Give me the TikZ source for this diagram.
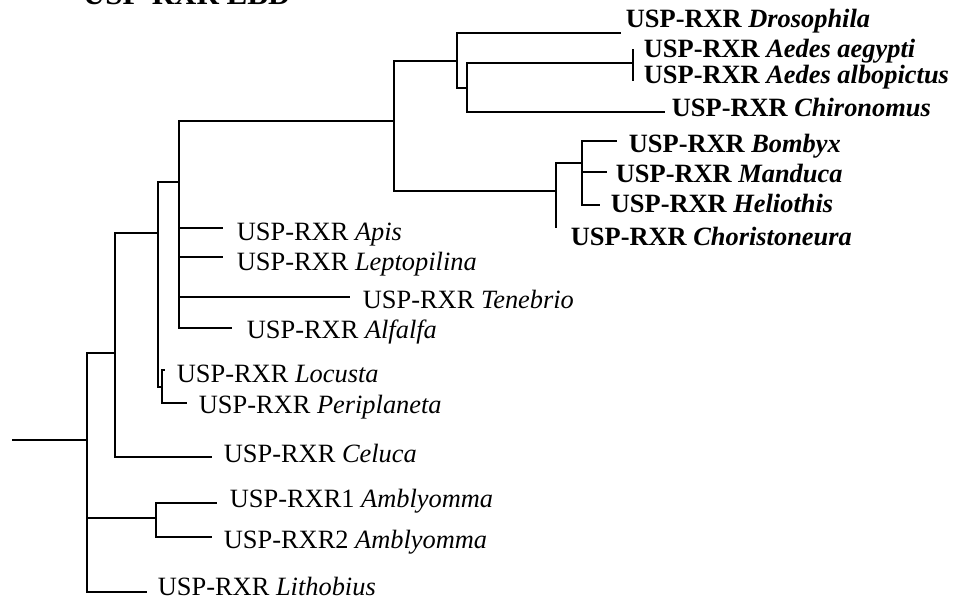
\documentclass[tikz,border=0pt]{standalone}
\usepackage{fontspec}
\setmainfont{Liberation Serif}
\begin{document}
\begin{tikzpicture}[x=1pt,y=-1pt,line width=1.8pt,
  every node/.style={inner sep=0pt,anchor=base west,font=\fontsize{26.4}{30}\selectfont},
  sp/.style={font=\fontsize{26.4}{30}\selectfont\bfseries}]
\clip (0,0) rectangle (970,602);
\node[font=\fontsize{31}{36}\selectfont\bfseries] (title) at (82,5) {USP-RXR LBD};
% junctions
\coordinate (root) at (12,440);
\coordinate (nA) at (87,440);
\coordinate (nB) at (115,353);
\coordinate (nAmb) at (156,518);
\coordinate (nC) at (158,233);
\coordinate (nD) at (179,182);
\coordinate (nLP) at (162,387);
\coordinate (nE) at (394,121);
\coordinate (nF) at (457,61);
\coordinate (nG) at (556,191);
\coordinate (nH) at (467,88);
\coordinate (nI) at (633,63);
\coordinate (nJ) at (582,163);
% branch tips
\coordinate (tDros) at (621,33);
\coordinate (tAeg) at (633,49);
\coordinate (tAlb) at (633,81);
\coordinate (tChir) at (665,112);
\coordinate (tBomb) at (617,141);
\coordinate (tMand) at (607,172);
\coordinate (tHel) at (600,205);
\coordinate (tChor) at (556,228);
\coordinate (tApis) at (223,228);
\coordinate (tLept) at (223,257);
\coordinate (tTen) at (350,297);
\coordinate (tAlf) at (232,328);
\coordinate (tLoc) at (165,370);
\coordinate (tPer) at (187,403);
\coordinate (tCel) at (212,457);
\coordinate (tAmb1) at (217,503);
\coordinate (tAmb2) at (212,537);
\coordinate (tLith) at (147,592);
% tree
\draw (root) -- (nA);
\foreach \c in {nB,nAmb,tLith} \draw (nA) |- (\c);
\foreach \c in {nC,tCel} \draw (nB) |- (\c);
\foreach \c in {nD,nLP} \draw (nC) |- (\c);
\foreach \c in {nE,tApis,tLept,tTen,tAlf} \draw (nD) |- (\c);
\foreach \c in {tLoc,tPer} \draw (nLP) |- (\c);
\foreach \c in {nF,nG} \draw (nE) |- (\c);
\foreach \c in {tDros,nH} \draw (nF) |- (\c);
\foreach \c in {nI,tChir} \draw (nH) |- (\c);
\foreach \c in {tAeg,tAlb} \draw (nI) |- (\c);
\foreach \c in {nJ,tChor} \draw (nG) |- (\c);
\foreach \c in {tBomb,tMand,tHel} \draw (nJ) |- (\c);
\foreach \c in {tAmb1,tAmb2} \draw (nAmb) |- (\c);
% labels
\node[sp] (lDros) at (625,28) {USP-RXR \textit{Drosophila}};
\node[sp] (lAeg) at (643,58) {USP-RXR \textit{Aedes aegypti}};
\node[sp] (lAlb) at (643,84) {USP-RXR \textit{Aedes albopictus}};
\node[sp] (lChir) at (671,117) {USP-RXR \textit{Chironomus}};
\node[sp] (lBomb) at (628,152) {USP-RXR \textit{Bombyx}};
\node[sp] (lMand) at (615,182) {USP-RXR \textit{Manduca}};
\node[sp] (lHel) at (610,212) {USP-RXR \textit{Heliothis}};
\node[sp] (lChor) at (570,245) {USP-RXR \textit{Choristoneura}};
\node (lApis) at (236,240) {USP-RXR \textit{Apis}};
\node (lLept) at (236,270) {USP-RXR \textit{Leptopilina}};
\node (lTen) at (362,308) {USP-RXR \textit{Tenebrio}};
\node (lAlf) at (246,338) {USP-RXR \textit{Alfalfa}};
\node (lLoc) at (176,382) {USP-RXR \textit{Locusta}};
\node (lPer) at (198,413) {USP-RXR \textit{Periplaneta}};
\node (lCel) at (223,462) {USP-RXR \textit{Celuca}};
\node (lAmb1) at (229,507) {USP-RXR1 \textit{Amblyomma}};
\node (lAmb2) at (223,548) {USP-RXR2 \textit{Amblyomma}};
\node (lLith) at (157,595) {USP-RXR \textit{Lithobius}};
\end{tikzpicture}
\end{document}
